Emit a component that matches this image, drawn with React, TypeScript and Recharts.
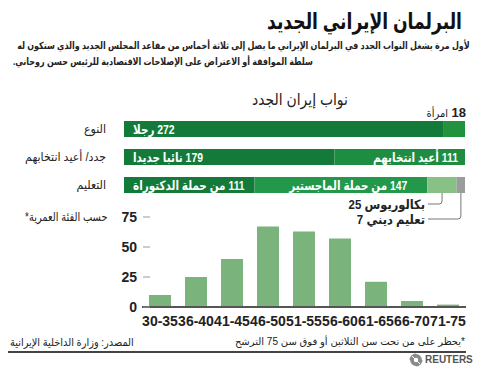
import React from 'react';
import { BarChart, Bar, XAxis, YAxis, Cell, LabelList } from 'recharts';

// ---- Data ----
const rowNames = ['النوع', 'جدد/ أعيد انتخابهم', 'التعليم'];
const seg1 = [272, 179, 111];
const seg2 = [18, 111, 147];
const seg3 = [0, 0, 25];
const seg4 = [0, 0, 7];
const seg1Labels = ['272 رجلا', '179 نائبا جديدا', '111 من حملة الدكتوراة'];
const seg2Labels = ['', '111 أعيد انتخابهم', '147 من حملة الماجستير'];
const seg2CalloutNum = ['18', '', ''];
const seg2CalloutText = ['امرأة', '', ''];
const seg3Labels = ['', '', 'بكالوريوس 25'];
const seg4Labels = ['', '', 'تعليم ديني 7'];

const ageGroups = ['30-35', '36-40', '41-45', '46-50', '51-55', '56-60', '61-65', '66-70', '71-75'];
const ageCounts = [10, 25, 40, 67, 63, 57, 21, 5, 2];
const ageTicks = [0, 25, 50, 75];

const title = 'البرلمان الإيراني الجديد';
const subtitle1 = 'لأول مرة يشغل النواب الجدد في البرلمان الإيراني ما يصل إلى ثلاثة أخماس من مقاعد المجلس الجديد والذي ستكون له';
const subtitle2 = 'سلطة الموافقة أو الاعتراض على الإصلاحات الاقتصادية للرئيس حسن روحاني.';
const chartTitle = 'نواب إيران الجدد';
const ageTitle = 'حسب الفئة العمرية*';
const footNote = '*يحظر على من تحت سن الثلاثين أو فوق سن 75 الترشح';
const source = 'المصدر: وزارة الداخلية الإيرانية';

const rowData = rowNames.map((row, i) => ({
  row,
  s1: seg1[i],
  s2: seg2[i],
  s3: seg3[i],
  s4: seg4[i],
  l1: seg1Labels[i],
  l2: seg2Labels[i],
  c2n: seg2CalloutNum[i],
  c2t: seg2CalloutText[i],
  l3: seg3Labels[i],
  l4: seg4Labels[i],
}));
const ageData = ageGroups.map((g, i) => ({ g, v: ageCounts[i] }));

const seg2Colors = ['#22923f', '#1e8d42', '#23984a'];

const FONT = '"Liberation Sans", Arial, "DejaVu Sans", sans-serif';
const rtl = (s: string) => '\u202B' + s + '\u202C';

const RowTick = (props: any) => {
  const { x, y, payload } = props;
  return (
    <text
      transform={`translate(${x - 18},${y + 4}) scale(0.92,1)`}
      textAnchor="end"
      fontSize={12}
      fill="#222"
      fontFamily={FONT}
    >
      {rtl(payload.value)}
    </text>
  );
};

const InsideLeft = (props: any) => {
  const { x, y, height, value } = props;
  if (!value) return null;
  return (
    <text
      transform={`translate(${x + 9},${y + height / 2 + 5}) scale(0.8,1)`}
      textAnchor="start"
      fontSize={13}
      fontWeight="bold"
      fill="#fff"
      fontFamily={FONT}
    >
      {rtl(value)}
    </text>
  );
};

const InsideRight = (props: any) => {
  const { x, y, width, height, value, index } = props;
  if (!value) return null;
  const pad = index === 2 ? 20 : 7;
  return (
    <text
      transform={`translate(${x + width - pad},${y + height / 2 + 5}) scale(0.8,1)`}
      textAnchor="end"
      fontSize={13}
      fontWeight="bold"
      fill="#fff"
      fontFamily={FONT}
    >
      {rtl(value)}
    </text>
  );
};

const CalloutNum = (props: any) => {
  const { x, y, width, value } = props;
  if (!value) return null;
  return (
    <text x={x + width + 1} y={y - 4} textAnchor="end" fontSize={13} fontWeight="bold" fill="#222" fontFamily={FONT}>
      {value}
    </text>
  );
};
const CalloutText = (props: any) => {
  const { x, y, width, value } = props;
  if (!value) return null;
  return (
    <text
      transform={`translate(${x + width - 17},${y - 4}) scale(0.9,1)`}
      textAnchor="end"
      fontSize={11}
      fill="#222"
      fontFamily={FONT}
    >
      {rtl(value)}
    </text>
  );
};

const makeBracket = (drop: number) => (props: any) => {
  const { x, y, width, height, value } = props;
  if (!value) return null;
  const cx = x + width / 2;
  const by = y + height;
  const ly = by + drop;
  const endX = 428;
  return (
    <g>
      <path
        d={`M${cx},${by} V${ly - 3} Q${cx},${ly} ${cx - 3},${ly} H${endX}`}
        fill="none"
        stroke="#777"
        strokeWidth={1}
      />
      <text
        transform={`translate(${endX - 3},${ly + 5}) scale(0.88,1)`}
        textAnchor="end"
        fontSize={13}
        fontWeight="bold"
        fill="#222"
        fontFamily={FONT}
      >
        {rtl(value)}
      </text>
    </g>
  );
};
const Bracket3 = makeBracket(11);
const Bracket4 = makeBracket(26);

const AgeYTick = (props: any) => {
  const { x, y, payload } = props;
  return (
    <g>
      <text x={x - 5} y={y} dy={5} textAnchor="end" fontSize={14} fontWeight="bold" fill="#222" fontFamily={FONT}>
        {payload.value}
      </text>
      <line x1={x + 1} x2={x + 8} y1={y} y2={y} stroke="#999" strokeWidth={1} />
    </g>
  );
};

const ReutersLogo = () => (
  <svg width={14} height={14} viewBox="0 0 14 14" style={{ position: 'absolute', left: 409, top: 353 }}>
    <circle cx={7} cy={7} r={6.5} fill="#8a8a8a" />
    <circle cx={7} cy={7} r={2.2} fill="#fff" />
    <path d="M7,0.5 A6.5,6.5 0 0 1 13.5,7" stroke="#fff" strokeWidth={1.2} fill="none" />
    <path d="M0.5,7 A6.5,6.5 0 0 0 7,13.5" stroke="#fff" strokeWidth={1.2} fill="none" />
    <path d="M3,3 L11,11" stroke="#fff" strokeWidth={1} />
  </svg>
);

const abs = (style: React.CSSProperties): React.CSSProperties => ({
  position: 'absolute',
  whiteSpace: 'nowrap',
  fontFamily: FONT,
  color: '#222',
  ...style,
});

export default function App() {
  return (
    <div style={{ position: 'absolute', left: 0, top: 0, width: 477, height: 378, background: '#fff', overflow: 'hidden' }}>
      <div
        dir="rtl"
        style={abs({ right: 15, top: 7, fontSize: 22, fontWeight: 'bold', lineHeight: '30px', color: '#111', transform: 'scaleX(0.78)', transformOrigin: 'right center' })}
      >
        {title}
      </div>
      <div
        dir="rtl"
        style={abs({ right: 7, top: 38, fontSize: 10, fontWeight: 'bold', lineHeight: '16px', transform: 'scaleX(0.8)', transformOrigin: 'right center' })}
      >
        {subtitle1}
      </div>
      <div
        dir="rtl"
        style={abs({ left: 13, top: 54, fontSize: 10, fontWeight: 'bold', lineHeight: '16px', transform: 'scaleX(0.8)', transformOrigin: 'left center' })}
      >
        {subtitle2}
      </div>
      <div
        dir="rtl"
        style={abs({ left: 300, top: 90, fontSize: 16, lineHeight: '20px', transform: 'translateX(-50%) scaleX(0.87)', transformOrigin: 'center center' })}
      >
        {chartTitle}
      </div>

      <div style={{ position: 'absolute', left: 0, top: 95 }}>
        <BarChart
          width={477}
          height={135}
          data={rowData}
          layout="vertical"
          margin={{ top: 20, right: 12, bottom: 31, left: 0 }}
          barSize={16}
        >
          <XAxis type="number" domain={[0, 290]} hide />
          <YAxis
            type="category"
            dataKey="row"
            width={124}
            axisLine={false}
            tickLine={false}
            tickSize={0}
            tickMargin={0}
            tick={<RowTick />}
          />
          <Bar dataKey="s1" stackId="a" fill="#137a3a" isAnimationActive={false}>
            <LabelList dataKey="l1" content={<InsideLeft />} />
          </Bar>
          <Bar dataKey="s2" stackId="a" isAnimationActive={false}>
            {rowData.map((_, i) => (
              <Cell key={i} fill={seg2Colors[i]} />
            ))}
            <LabelList dataKey="l2" content={<InsideRight />} />
            <LabelList dataKey="c2n" content={<CalloutNum />} />
            <LabelList dataKey="c2t" content={<CalloutText />} />
          </Bar>
          <Bar dataKey="s3" stackId="a" fill="#88c086" isAnimationActive={false}>
            <LabelList dataKey="l3" content={<Bracket3 />} />
          </Bar>
          <Bar dataKey="s4" stackId="a" fill="#9c9c9c" isAnimationActive={false}>
            <LabelList dataKey="l4" content={<Bracket4 />} />
          </Bar>
        </BarChart>
      </div>

      <div
        dir="rtl"
        style={abs({ right: 370, top: 209, fontSize: 12, lineHeight: '16px', transform: 'scaleX(0.82)', transformOrigin: 'right center' })}
      >
        {ageTitle}
      </div>

      <div style={{ position: 'absolute', left: 0, top: 200 }}>
        <BarChart
          width={477}
          height={130}
          data={ageData}
          margin={{ top: 17, right: 11, bottom: 0, left: 0 }}
          barSize={22}
        >
          <XAxis
            dataKey="g"
            interval={0}
            height={23}
            tickLine={false}
            tickSize={0}
            tickMargin={9}
            axisLine={{ stroke: '#555', strokeWidth: 2 }}
            tick={{ fontSize: 14, fontWeight: 'bold', fill: '#222', fontFamily: FONT }}
          />
          <YAxis
            type="number"
            domain={[0, 75]}
            ticks={ageTicks}
            width={142}
            axisLine={false}
            tickLine={false}
            tickSize={0}
            tickMargin={0}
            tick={<AgeYTick />}
          />
          <Bar dataKey="v" fill="#7bb37c" isAnimationActive={false} />
        </BarChart>
      </div>

      <div dir="rtl" style={abs({ right: 12, top: 335, fontSize: 10, lineHeight: '14px' })}>
        {footNote}
      </div>
      <div
        dir="rtl"
        style={abs({ left: 10, top: 335, fontSize: 11, lineHeight: '14px', transform: 'scaleX(0.89)', transformOrigin: 'left center' })}
      >
        {source}
      </div>
      <div style={{ position: 'absolute', left: 8, top: 351, width: 458, height: 1.5, background: '#444' }} />
      <ReutersLogo />
      <div style={abs({ left: 425, top: 354, fontSize: 10, fontWeight: 'bold', lineHeight: '12px', color: '#555' })}>
        REUTERS
      </div>
    </div>
  );
}
